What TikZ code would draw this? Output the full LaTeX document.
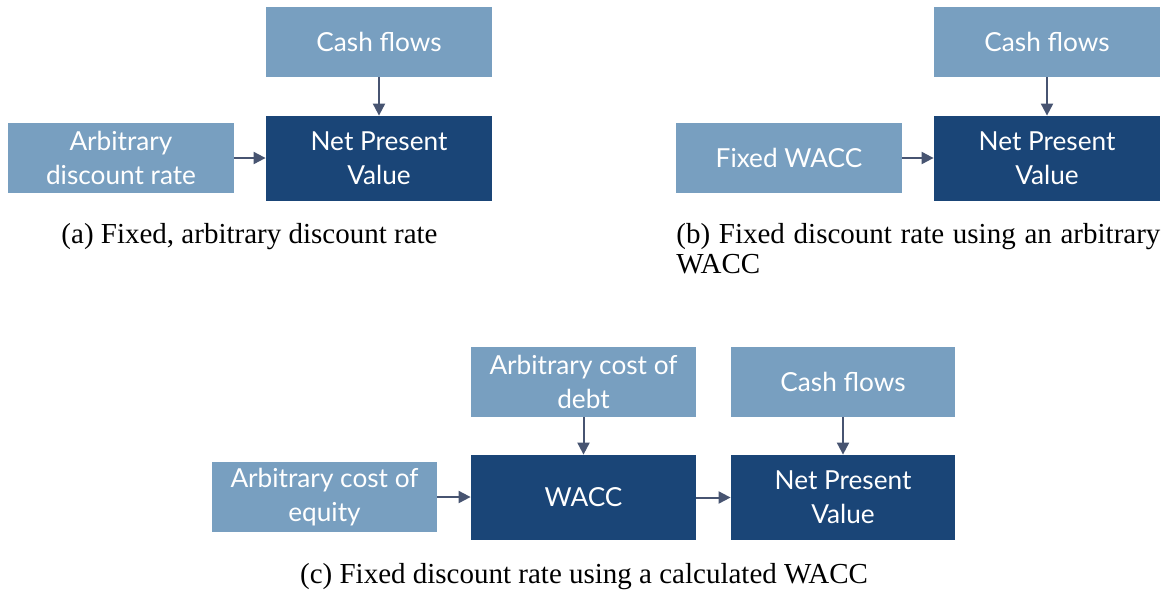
\documentclass[tikz,border=0pt]{standalone}
\usepackage{fontspec}
\setmainfont{Liberation Serif}
\newfontfamily\boxfont{Lato}
\usetikzlibrary{arrows.meta}
\definecolor{lightbox}{HTML}{789FC0}
\definecolor{darkbox}{HTML}{1A4577}
\definecolor{arrowc}{HTML}{475471}
\tikzset{
  base/.style={draw=none, text=white, align=center, inner sep=0pt,
    font=\boxfont\fontsize{13.1}{17}\selectfont},
  lightnode/.style={base, fill=lightbox, minimum width=113pt, minimum height=35pt},
  darknode/.style={base, fill=darkbox, minimum width=113pt, minimum height=42.5pt},
  conn/.style={draw=arrowc, line width=1pt, -{Triangle[length=6pt,width=6pt]}},
  captext/.style={font=\fontsize{14.5}{15}\selectfont, inner sep=0pt}
}
\begin{document}
\begin{tikzpicture}[x=0.5pt, y=-0.5pt]
\useasboundingbox (0,0) rectangle (1170,590);
% (a)
\node[lightnode] (cfA) at (379,42) {Cash flows};
\node[lightnode] (adr) at (121,158) {Arbitrary\\discount rate};
\node[darknode] (npvA) at (379,158.5) {Net Present\\Value};
\draw[conn] (cfA) -- (npvA);
\draw[conn] (adr) -- (adr -| npvA.west);
\node[captext, anchor=base] (capA) at (249.5,243) {(a) Fixed, arbitrary discount rate};
% (b)
\node[captext, anchor=base west, text width=242pt, align=justify] (capB) at (676,243) {(b) Fixed discount rate using an arbitrary WACC};
\node[lightnode] (cfB) at (1047,42) {Cash flows};
\node[lightnode] (fw) at (789,158) {Fixed WACC};
\node[darknode] (npvB) at (1047,158.5) {Net Present\\Value};
\draw[conn] (cfB) -- (npvB);
\draw[conn] (fw) -- (fw -| npvB.west);
% (c)
\node[lightnode, minimum width=112.5pt] (acd) at (583.5,382) {Arbitrary cost of\\debt};
\node[lightnode, minimum width=112pt] (cfC) at (843,382) {Cash flows};
\node[lightnode, minimum width=112.5pt] (ace) at (324.5,497) {Arbitrary cost of\\equity};
\node[darknode, minimum width=112.5pt] (wacc) at (583.5,497.5) {WACC};
\node[darknode, minimum width=112pt] (npvC) at (843,497.5) {Net Present\\Value};
\draw[conn] (acd) -- (wacc);
\draw[conn] (cfC) -- (npvC);
\draw[conn] (ace) -- (ace -| wacc.west);
\draw[conn] (wacc) -- (npvC);
\node[captext, anchor=base] (capC) at (584,583) {(c) Fixed discount rate using a calculated WACC};
\end{tikzpicture}
\end{document}
